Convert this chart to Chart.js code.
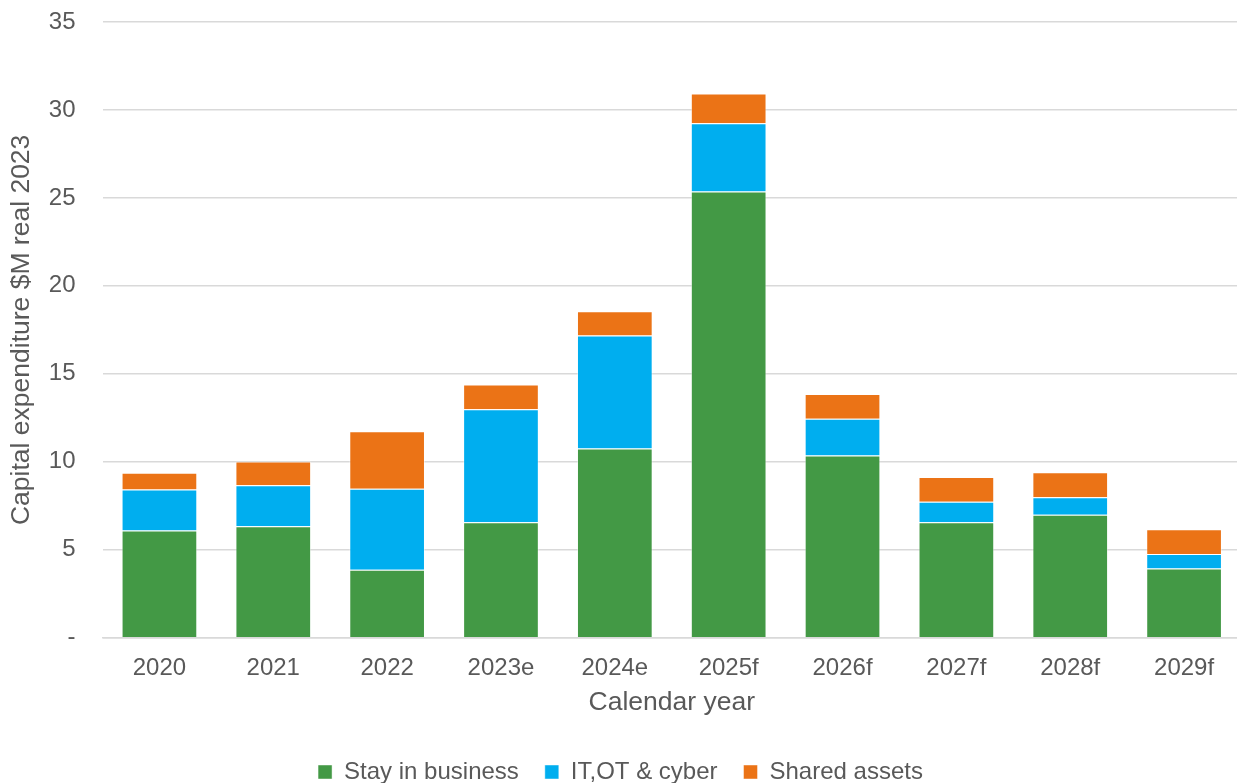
<!DOCTYPE html>
<html>
<head>
<meta charset="utf-8">
<script src="https://cdn.jsdelivr.net/npm/chart.js@4"></script>
<style>
    html, body { margin: 0; padding: 0; background: #fff; overflow: hidden; }
    canvas { display: block; }
</style>
</head>
<body>
<canvas id="capex-chart" width="1241" height="794"></canvas>
<script>
// Capital expenditure by category, $M real 2023
const years = ['2020', '2021', '2022', '2023e', '2024e', '2025f', '2026f', '2027f', '2028f', '2029f'];
const stayInBusiness = [6.10, 6.33, 3.86, 6.56, 10.76, 25.36, 10.36, 6.56, 6.99, 3.94];
const itOtCyber = [2.33, 2.33, 4.61, 6.43, 6.42, 3.88, 2.08, 1.17, 0.99, 0.82];
const sharedAssets = [0.95, 1.36, 3.26, 1.41, 1.38, 1.69, 1.42, 1.40, 1.42, 1.40];

const textColor = '#595959';
const gridColor = '#d9d9d9';
const fontFamily = '"Liberation Sans", Arial, sans-serif';

/**
 * Build the stacked capex bar chart
 */
function initializeCapexChart() {
    const ctx = document.getElementById('capex-chart');
    if (!ctx) return;

    const barStyle = {
        borderColor: 'rgba(255, 255, 255, 0.45)',
        borderWidth: 1,
        categoryPercentage: 1.0,
        barPercentage: 0.665
    };

    new Chart(ctx, {
        type: 'bar',
        data: {
            labels: years,
            datasets: [
                Object.assign({ label: 'Stay in business', data: stayInBusiness, backgroundColor: '#439945' }, barStyle),
                Object.assign({ label: 'IT,OT & cyber', data: itOtCyber, backgroundColor: '#00AEEF' }, barStyle),
                Object.assign({ label: 'Shared assets', data: sharedAssets, backgroundColor: '#EB7316' }, barStyle)
            ]
        },
        options: {
            responsive: false,
            animation: false,
            devicePixelRatio: 1,
            layout: {
                padding: { top: 22, right: 0, bottom: 0, left: 0 }
            },
            scales: {
                x: {
                    stacked: true,
                    grid: { display: false, drawTicks: false },
                    border: { display: true, color: gridColor, width: 1.5 },
                    ticks: {
                        color: textColor,
                        padding: 15.8,
                        maxRotation: 0,
                        font: { family: fontFamily, size: 24 }
                    },
                    title: {
                        display: true,
                        text: 'Calendar year',
                        color: textColor,
                        padding: { top: 0, bottom: 15.6 },
                        font: { family: fontFamily, size: 26.5 }
                    },
                    afterFit: function(scale) {
                        scale.height = 96.3;
                    }
                },
                y: {
                    stacked: true,
                    min: 0,
                    max: 35,
                    grid: {
                        color: gridColor,
                        lineWidth: 1.5,
                        drawTicks: true,
                        tickLength: 22,
                        tickColor: 'rgba(0, 0, 0, 0)'
                    },
                    border: { display: false },
                    ticks: {
                        stepSize: 5,
                        color: textColor,
                        padding: 5,
                        font: { family: fontFamily, size: 24 },
                        callback: function(value) {
                            return value === 0 ? '-' : value;
                        }
                    },
                    title: {
                        display: true,
                        text: 'Capital expenditure $M real 2023',
                        color: textColor,
                        padding: { top: 6, bottom: 0 },
                        font: { family: fontFamily, size: 26.5 }
                    },
                    afterFit: function(scale) {
                        scale.width = 102.5;
                    }
                }
            },
            plugins: {
                legend: {
                    position: 'bottom',
                    labels: {
                        color: textColor,
                        boxWidth: 14,
                        boxHeight: 14,
                        padding: 26,
                        font: { family: fontFamily, size: 24 }
                    }
                },
                tooltip: { enabled: false }
            }
        }
    });
}

initializeCapexChart();
</script>
</body>
</html>
